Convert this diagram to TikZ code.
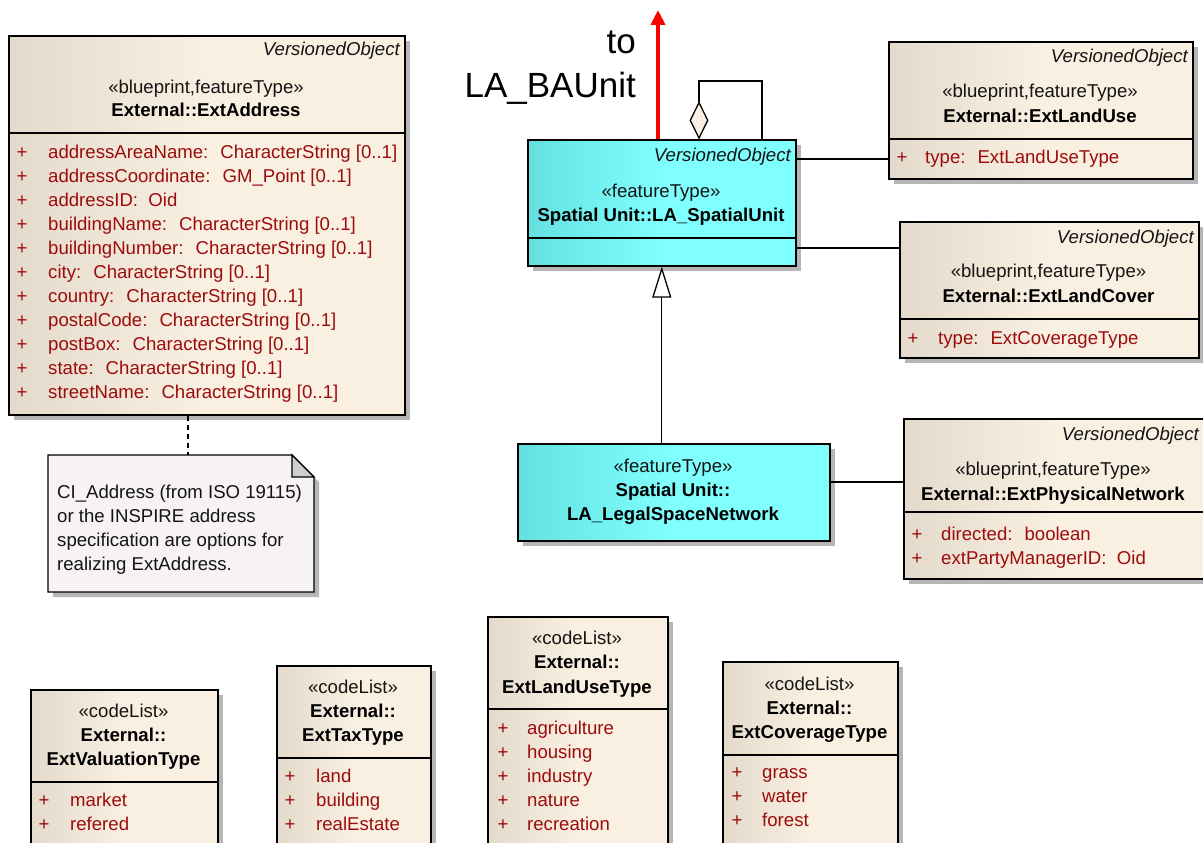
\documentclass[tikz,border=0pt]{standalone}
\usepackage{fontspec}
\setmainfont{Liberation Sans}
\usetikzlibrary{shadows,arrows.meta,shapes.geometric}
\definecolor{beigeL}{RGB}{250,240,226}
\definecolor{beigeD}{RGB}{228,218,204}
\definecolor{cyanL}{RGB}{128,255,255}
\definecolor{cyanD}{RGB}{100,224,224}
\definecolor{notec}{RGB}{246,242,246}
\definecolor{foldc}{RGB}{208,206,208}
\definecolor{attrc}{RGB}{155,12,12}
\definecolor{shadowc}{RGB}{182,182,182}
\definecolor{txtc}{RGB}{20,20,20}
\newcommand\fs{\fontsize{18.6}{22}\selectfont}
\newcommand\attrs[5]{%
  \foreach \t [count=\i] in {#5} {
    \node[plustxt] (#1p\i) at (#2, #4+24*\i-18) {+};
    \node[attrtxt] (#1a\i) at (#3, #4+24*\i-18) {\t};
  }}
\begin{document}
\begin{tikzpicture}[x=1pt,y=-1pt,
  shad/.style={drop shadow={shadow xshift=5pt,shadow yshift=-5pt,fill=shadowc,opacity=1}},
  cls/.style={shad, draw=black, line width=1.6pt, anchor=north west, inner sep=0pt,
    left color=beigeD, right color=beigeL, middle color=beigeL},
  fcls/.style={shad, draw=black, line width=1.6pt, anchor=north west, inner sep=0pt,
    left color=cyanD, right color=cyanL, middle color=cyanL},
  divl/.style={line width=1.4pt},
  votxt/.style={font=\itshape\fs, text=txtc, anchor=base east, inner sep=0pt},
  sttxt/.style={font=\fs, text=txtc, anchor=base, inner sep=0pt},
  nmtxt/.style={font=\bfseries\fs, text=black, anchor=base, inner sep=0pt},
  attrtxt/.style={font=\fs, text=attrc, anchor=base west, inner sep=0pt},
  plustxt/.style={font=\fs, text=attrc, anchor=base, inner sep=0pt},
  notetxt/.style={font=\fs, text=txtc, anchor=base west, inner sep=0pt},
  conn/.style={line width=1.3pt, draw=black},
]
\fill[white] (0,0) rectangle (1203,843);
\useasboundingbox (0,0) rectangle (1203,843);
\clip (0,0) rectangle (1203,843);

% ---------- ExtAddress
\node[cls, minimum width=396pt, minimum height=379pt] (addr) at (8,35) {};
\draw[divl] ([yshift=-98pt]addr.north west) -- ([yshift=-98pt]addr.north east);
\node[votxt] (addrvo) at (400,56) {VersionedObject};
\node[sttxt] (addrst) at (206,93) {«blueprint,featureType»};
\node[nmtxt] (addrnm) at (206,117) {External::ExtAddress};
\attrs{ad}{22}{48}{152}{{addressAreaName:~ CharacterString [0..1]},{addressCoordinate:~ GM\_Point [0..1]},{addressID:~ Oid},{buildingName:~ CharacterString [0..1]},{buildingNumber:~ CharacterString [0..1]},{city:~ CharacterString [0..1]},{country:~ CharacterString [0..1]},{postalCode:~ CharacterString [0..1]},{postBox:~ CharacterString [0..1]},{state:~ CharacterString [0..1]},{streetName:~ CharacterString [0..1]}}

% ---------- Note
\node[anchor=north west, minimum width=266pt, minimum height=137pt, inner sep=0pt] (note) at (48,455) {};
\fill[shadowc, shift={(5,5)}] (48,455) -- (292,455) -- (314,477) -- (314,592) -- (48,592) -- cycle;
\filldraw[fill=notec, draw=black, line width=1.4pt] (48,455) -- (292,455) -- (314,477) -- (314,592) -- (48,592) -- cycle;
\filldraw[fill=foldc, draw=black, line width=1.2pt] (292,455) -- (292,477) -- (314,477) -- cycle;
\node[notetxt] (n1) at (57,498) {CI\_Address (from ISO 19115)};
\node[notetxt] (n2) at (57,522) {or the INSPIRE address};
\node[notetxt] (n3) at (57,546) {specification are options for};
\node[notetxt] (n4) at (57,570) {realizing ExtAddress.};
\coordinate (dl) at (188,0);
\draw[conn, dash pattern=on 5pt off 4pt] (addr.south -| dl) -- (note.north -| dl);

% ---------- LA_SpatialUnit
\node[fcls, minimum width=268pt, minimum height=126pt] (su) at (527,139) {};
\draw[divl] ([yshift=-99pt]su.north west) -- ([yshift=-99pt]su.north east);
\node[votxt] (suvo) at (791,161) {VersionedObject};
\node[sttxt] (sust) at (661,197) {«featureType»};
\node[nmtxt] (sunm) at (661,221) {Spatial Unit::LA\_SpatialUnit};

% ---------- LA_LegalSpaceNetwork
\node[fcls, minimum width=312pt, minimum height=97pt] (lsn) at (517,443) {};
\node[sttxt] (lsnst) at (673,472) {«featureType»};
\node[nmtxt] (lsnnm1) at (673,496) {Spatial Unit::};
\node[nmtxt] (lsnnm2) at (673,520) {LA\_LegalSpaceNetwork};

% ---------- ExtLandUse
\node[cls, minimum width=304pt, minimum height=137pt] (lu) at (888,41) {};
\draw[divl] ([yshift=-98pt]lu.north west) -- ([yshift=-98pt]lu.north east);
\node[votxt] (luvo) at (1188,63) {VersionedObject};
\node[sttxt] (lust) at (1040,98) {«blueprint,featureType»};
\node[nmtxt] (lunm) at (1040,122) {External::ExtLandUse};
\attrs{lu}{902}{925}{157}{{type:~ ExtLandUseType}}

% ---------- ExtLandCover
\node[cls, minimum width=299pt, minimum height=136pt] (lc) at (899,221) {};
\draw[divl] ([yshift=-98pt]lc.north west) -- ([yshift=-98pt]lc.north east);
\node[votxt] (lcvo) at (1194,243) {VersionedObject};
\node[sttxt] (lcst) at (1048.5,277) {«blueprint,featureType»};
\node[nmtxt] (lcnm) at (1048.5,302) {External::ExtLandCover};
\attrs{lc}{913}{938}{338}{{type:~ ExtCoverageType}}

% ---------- ExtPhysicalNetwork
\node[cls, minimum width=303pt, minimum height=160pt] (pn) at (903,418) {};
\draw[divl] ([yshift=-94pt]pn.north west) -- ([yshift=-94pt]pn.north east);
\node[votxt] (pnvo) at (1199,440) {VersionedObject};
\node[sttxt] (pnst) at (1053,475) {«blueprint,featureType»};
\node[nmtxt] (pnnm) at (1053,500) {External::ExtPhysicalNetwork};
\attrs{pn}{917}{941}{534}{{directed:~ boolean},{extPartyManagerID:~ Oid}}

% ---------- code lists
\node[cls, minimum width=187pt, minimum height=200pt] (vt) at (30,689) {};
\draw[divl] ([yshift=-93pt]vt.north west) -- ([yshift=-93pt]vt.north east);
\node[sttxt] (vtst) at (123.5,717) {«codeList»};
\node[nmtxt] (vtnm1) at (123.5,741) {External::};
\node[nmtxt] (vtnm2) at (123.5,765) {ExtValuationType};
\attrs{vt}{44}{70}{800}{market,refered}

\node[cls, minimum width=154pt, minimum height=220pt] (tt) at (276,665) {};
\draw[divl] ([yshift=-93pt]tt.north west) -- ([yshift=-93pt]tt.north east);
\node[sttxt] (ttst) at (353,693) {«codeList»};
\node[nmtxt] (ttnm1) at (353,717) {External::};
\node[nmtxt] (ttnm2) at (353,741) {ExtTaxType};
\attrs{tt}{290}{316}{776}{land,building,realEstate}

\node[cls, minimum width=180pt, minimum height=260pt] (lut) at (487,616) {};
\draw[divl] ([yshift=-93pt]lut.north west) -- ([yshift=-93pt]lut.north east);
\node[sttxt] (lutst) at (577,644) {«codeList»};
\node[nmtxt] (lutnm1) at (577,668) {External::};
\node[nmtxt] (lutnm2) at (577,693) {ExtLandUseType};
\attrs{lut}{503}{527}{728}{agriculture,housing,industry,nature,recreation}

\node[cls, minimum width=175pt, minimum height=220pt] (ct) at (722,661) {};
\draw[divl] ([yshift=-94pt]ct.north west) -- ([yshift=-94pt]ct.north east);
\node[sttxt] (ctst) at (809.5,690) {«codeList»};
\node[nmtxt] (ctnm1) at (809.5,714) {External::};
\node[nmtxt] (ctnm2) at (809.5,738) {ExtCoverageType};
\attrs{ct}{737}{762}{772}{grass,water,forest}

% ---------- connectors
\coordinate (c1) at ([yshift=-20pt]su.north east);
\draw[conn] (c1) -- (c1 -| lu.west);
\coordinate (c2) at ([yshift=-109pt]su.north east);
\draw[conn] (c2) -- (c2 -| lc.west);
\coordinate (c3) at ([yshift=-39pt]lsn.north east);
\draw[conn] (c3) -- (c3 -| pn.west);

% generalization
\draw[conn, -{Triangle[open, length=31pt, width=19pt, fill=white]}] (lsn.north -| su.south) -- (su.south);

% self aggregation
\coordinate (dx) at (699,0);
\node[diamond, draw=black, fill=beigeL, line width=1.3pt, minimum width=18pt, minimum height=36pt, inner sep=0pt, anchor=south] (dia) at (su.north -| dx) {};
\coordinate (sa) at (762,81);
\draw[conn] (dia.north) |- (sa) -- (su.north -| sa);

% red arrow
\coordinate (topc) at (658,10);
\draw[line width=4.5pt, draw={rgb,255:red,255;green,0;blue,0}, -{Triangle[length=15pt, width=14pt]}] (su.north -| topc) -- (topc);
\node[font=\fontsize{35}{40}\selectfont, anchor=base east, inner sep=0pt] (to1) at (636,54) {to};
\node[font=\fontsize{35}{40}\selectfont, anchor=base east, inner sep=0pt] (to2) at (636,98) {LA\_BAUnit};
\end{tikzpicture}
\end{document}
